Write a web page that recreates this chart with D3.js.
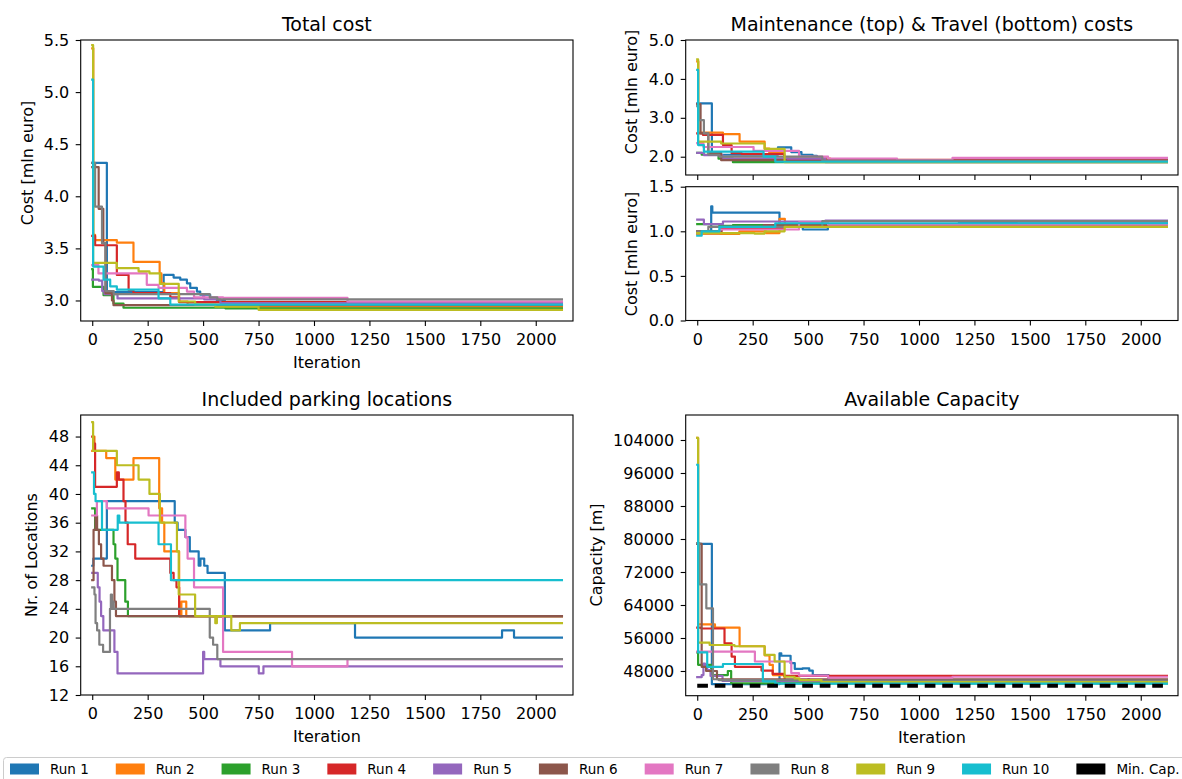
<!DOCTYPE html>
<html>
<head>
<meta charset="utf-8">
<script src="https://cdn.jsdelivr.net/npm/d3@7"></script>
<style>
  body { margin: 0; background: #fff; }
  svg { display: block; font-family: "DejaVu Sans", sans-serif; }
</style>
</head>
<body>
<svg id="fig" width="1182" height="779"></svg>
<script>
// ---- data: each run is a list of [iteration, value] steps (value holds until the next step)
const runNames = ["Run 1", "Run 2", "Run 3", "Run 4", "Run 5", "Run 6", "Run 7", "Run 8", "Run 9", "Run 10"];
const runColors = ["#1f77b4", "#ff7f0e", "#2ca02c", "#d62728", "#9467bd", "#8c564b", "#e377c2", "#7f7f7f", "#bcbd22", "#17becf"];
const lastIteration = 2118;
const iterationTicks = [0, 250, 500, 750, 1000, 1250, 1500, 1750, 2000];

const totalCost = [
  [[0,4.32],[66,3.08],[322,3.245],[367,3.22],[397,3.2],[427,3.165],[442,3.12],[472,3.085],[487,3.055],[532,3.02],[562,3.0],[598,2.955]],
  [[0,5.42],[5,3.63],[13,3.58],[111,3.555],[186,3.37],[304,3.26],[312,3.165],[325,3.07],[392,2.99],[430,2.96],[600,2.94]],
  [[0,3.3],[3,3.13],[51,3.05],[96,2.97],[141,2.93],[600,2.925]],
  [[0,3.62],[13,3.53],[111,3.245],[164,3.1],[186,3.07],[352,3.03],[392,2.985]],
  [[0,3.2],[30,3.19],[45,3.09],[55,3.06],[114,3.02],[500,3.05],[505,3.01],[578,2.975]],
  [[0,4.28],[29,3.88],[50,3.55],[60,3.07],[89,3.0],[96,2.955]],
  [[0,3.34],[28,3.26],[246,3.15],[299,3.12],[427,3.085],[459,3.03],[590,3.025],[1151,2.99]],
  [[0,4.32],[13,3.9],[44,3.55],[60,3.09],[97,3.06],[530,3.03],[564,3.01]],
  [[0,5.45],[4,3.36],[111,3.31],[209,3.28],[258,3.26],[305,3.16],[390,2.99],[464,2.96],[555,2.94],[750,2.91]],
  [[0,5.12],[4,3.325],[51,3.2],[81,3.135],[111,3.105],[299,3.02],[352,2.96]]
];

const maintenanceCost = [
  [[0,3.37],[66,2.05],[364,2.24],[424,2.12],[470,2.05],[520,2.02],[540,1.96],[590,1.87]],
  [[0,4.45],[5,2.62],[116,2.58],[191,2.39],[304,2.21],[325,2.1],[392,1.95],[600,1.88]],
  [[0,2.1],[20,2.05],[96,1.95],[161,1.86]],
  [[0,2.6],[26,2.56],[116,2.3],[155,2.09],[200,2.07],[392,1.92]],
  [[0,2.1],[30,2.04],[114,1.95],[578,1.86]],
  [[0,3.35],[15,2.6],[50,2.1],[108,1.91],[400,1.88]],
  [[0,2.35],[28,2.25],[254,2.15],[459,2.0],[590,1.95],[901,1.91],[1151,1.97]],
  [[0,3.3],[8,2.94],[30,2.6],[50,2.05],[100,2.0],[564,1.9]],
  [[0,4.5],[4,2.39],[108,2.34],[304,2.2],[394,1.86]],
  [[0,4.23],[4,2.3],[30,2.13],[299,2.0],[352,1.87]]
];

const travelCost = [
  [[0,0.97],[63,1.28],[68,1.21],[371,1.08],[400,1.06],[476,1.02],[589,1.07],[640,1.08],[1180,1.1],[1440,1.09]],
  [[0,0.97],[190,1.0],[310,0.98],[371,1.14],[395,1.08],[430,1.06]],
  [[0,1.08],[100,1.06],[161,1.07]],
  [[0,1.0],[110,1.03],[392,1.07]],
  [[0,1.13],[30,1.08],[116,1.11],[578,1.12]],
  [[0,1.0],[108,1.05],[300,1.07],[400,1.08]],
  [[0,0.98],[100,1.02],[459,1.1],[590,1.075]],
  [[0,1.0],[50,1.05],[564,1.115]],
  [[0,0.98],[258,0.975],[304,1.0],[394,1.05]],
  [[0,0.95],[20,1.0],[100,1.05],[352,1.09]]
];

const locations = [
  [[0,30],[5,31],[66,39],[372,36],[385,35],[420,34],[440,32],[480,30],[488,31],[505,30],[520,29],[598,21],[802,22],[1185,20],[1848,21],[1902,20]],
  [[0,46],[4,48],[10,46],[63,45],[104,42],[186,45],[302,38],[315,36],[325,32],[392,23],[402,25],[424,23]],
  [[0,38],[13,35],[96,33],[104,31],[114,28],[149,25],[161,23]],
  [[0,48],[5,47],[13,41],[111,43],[120,42],[141,39],[150,36],[160,33],[194,31],[352,29],[367,28],[380,27],[392,23]],
  [[0,29],[25,27],[33,25],[40,23],[50,21],[100,18],[114,15],[500,18],[505,17],[578,16],[751,15],[772,16]],
  [[0,28],[6,35],[15,37],[22,35],[30,33],[40,31],[51,30],[89,28],[100,25],[107,23]],
  [[0,37],[21,39],[66,38],[254,37],[420,34],[430,31],[459,27],[590,18],[901,16],[1151,17]],
  [[0,27],[10,26],[15,22],[22,21],[32,19],[49,18],[80,24],[84,26],[89,24],[92,25],[97,24],[530,20],[545,19],[564,17]],
  [[0,50],[4,46],[111,44],[209,42],[258,40],[305,36],[382,32],[390,26],[464,23],[555,22],[562,23],[627,21],[666,22]],
  [[0,43],[8,40],[15,39],[44,35],[115,37],[122,36],[299,33],[355,28]]
];

const capacity = [
  [[0,78800],[66,44800],[371,52300],[379,51700],[421,49900],[440,48500],[475,48650],[505,48100],[521,47000],[592,45300]],
  [[0,104500],[4,59300],[80,58500],[191,54000],[304,51800],[326,49500],[341,47000],[394,45400]],
  [[0,52500],[4,49500],[63,47000],[138,48000],[153,45000]],
  [[0,58500],[18,58300],[123,54700],[155,51500],[170,49000],[290,48100],[340,47300],[392,46800]],
  [[0,46500],[20,47000],[28,49800],[35,49000],[45,48200],[60,46800],[114,45600],[500,46000],[505,45600]],
  [[0,78800],[20,49000],[40,48000],[89,46000]],
  [[0,52700],[260,50300],[424,47500],[459,46900],[590,46400],[1151,46600]],
  [[0,79000],[10,69000],[41,63200],[71,46000],[97,45800],[564,45700]],
  [[0,104500],[4,54900],[56,54300],[168,54000],[304,51900],[349,50300],[394,46600],[439,46200],[461,45800],[560,45300]],
  [[0,98000],[4,52500],[45,49000],[116,49700],[296,45500],[352,44950]]
];
const minCapacity = 44450;

const totalTicks = [3.0, 3.5, 4.0, 4.5, 5.0, 5.5];
const maintenanceTicks = [2.0, 3.0, 4.0, 5.0];
const travelTicks = [0.0, 0.5, 1.0, 1.5];
const locationTicks = [12, 16, 20, 24, 28, 32, 36, 40, 44, 48];
const capacityTicks = [48000, 56000, 64000, 72000, 80000, 88000, 96000, 104000];

// ---- drawing
const svg = d3.select("#fig");
svg.append("rect").attr("width", 1182).attr("height", 779).attr("fill", "#fff");

const iterDomain = [-52, 2168];
const TICK = 5, FONT = 16, LINE_W = 2.2;
let clipCount = 0;

function drawPanel(o) {
  const x = d3.scaleLinear().domain(iterDomain).range([o.left, o.right]);
  const y = d3.scaleLinear().domain(o.yDomain).range([o.bottom, o.top]);
  const g = svg.append("g");
  const id = "clip" + (clipCount++);
  g.append("clipPath").attr("id", id).append("rect")
    .attr("x", o.left).attr("y", o.top).attr("width", o.right - o.left).attr("height", o.bottom - o.top);
  const plot = g.append("g").attr("clip-path", `url(#${id})`);
  const line = d3.line().x(d => x(d[0])).y(d => y(d[1])).curve(d3.curveStepAfter);
  o.series.forEach((s, i) => {
    const pts = s.concat([[lastIteration, s[s.length - 1][1]]]);
    plot.append("path").attr("d", line(pts)).attr("fill", "none")
      .attr("stroke", runColors[i]).attr("stroke-width", LINE_W)
      .attr("stroke-linejoin", "round").attr("stroke-linecap", "square");
  });
  if (o.extra) o.extra(plot, x, y);

  // axes
  const xa = d3.axisBottom(x).tickValues(iterationTicks).tickSize(TICK).tickPadding(8)
    .tickFormat(o.xLabels ? d3.format("d") : "");
  const gx = g.append("g").attr("transform", `translate(0,${o.bottom})`).call(xa);
  const ya = d3.axisLeft(y).tickValues(o.yTicks).tickSize(TICK).tickPadding(6.5).tickFormat(o.yFormat);
  const gy = g.append("g").attr("transform", `translate(${o.left},0)`).call(ya);
  [gx, gy].forEach(a => {
    a.attr("font-size", null).attr("font-family", null);
    a.select(".domain").remove();
    a.selectAll(".tick line").attr("stroke", "#000").attr("stroke-width", 1.1);
    a.selectAll(".tick text").attr("fill", "#000").style("font-size", FONT + "px");
  });
  g.append("rect").attr("x", o.left).attr("y", o.top)
    .attr("width", o.right - o.left).attr("height", o.bottom - o.top)
    .attr("fill", "none").attr("stroke", "#000").attr("stroke-width", 1.1);

  if (o.title) {
    g.append("text").attr("x", (o.left + o.right) / 2).attr("y", o.top - 9.5)
      .attr("text-anchor", "middle").style("font-size", "19px").attr("fill", "#000").text(o.title);
  }
  if (o.xLabel) {
    g.append("text").attr("x", (o.left + o.right) / 2).attr("y", o.bottom + 47)
      .attr("text-anchor", "middle").style("font-size", FONT + "px").attr("fill", "#000").text(o.xLabel);
  }
  if (o.yLabel) {
    g.append("text").attr("transform", `translate(${o.yLabelX},${o.yLabelY}) rotate(-90)`)
      .attr("text-anchor", "middle").attr("dy", "0.35em")
      .style("font-size", FONT + "px").attr("fill", "#000").text(o.yLabel);
  }
}

const L = { left: 80.7, right: 573 };
const R = { left: 685.7, right: 1178 };

drawPanel({ ...L, top: 40, bottom: 321, yDomain: [2.803, 5.5], yTicks: totalTicks, yFormat: d3.format(".1f"),
  series: totalCost, xLabels: true, title: "Total cost", xLabel: "Iteration",
  yLabel: "Cost [mln euro]", yLabelX: 27, yLabelY: 163 });

drawPanel({ ...R, top: 40, bottom: 175, yDomain: [1.53, 5.0], yTicks: maintenanceTicks, yFormat: d3.format(".1f"),
  series: maintenanceCost, xLabels: false, title: "Maintenance (top) & Travel (bottom) costs",
  yLabel: "Cost [mln euro]", yLabelX: 631, yLabelY: 92 });

drawPanel({ ...R, top: 186.7, bottom: 320.5, yDomain: [0, 1.5], yTicks: travelTicks, yFormat: d3.format(".1f"),
  series: travelCost, xLabels: true,
  yLabel: "Cost [mln euro]", yLabelX: 631, yLabelY: 254 });

drawPanel({ ...L, top: 415, bottom: 695, yDomain: [12, 51], yTicks: locationTicks, yFormat: d3.format("d"),
  series: locations, xLabels: true, title: "Included parking locations", xLabel: "Iteration",
  yLabel: "Nr. of Locations", yLabelX: 31, yLabelY: 555 });

drawPanel({ ...R, top: 415, bottom: 695.7, yDomain: [42010, 110060], yTicks: capacityTicks, yFormat: d3.format("d"),
  series: capacity, xLabels: true, title: "Available Capacity", xLabel: "Iteration",
  yLabel: "Capacity [m]", yLabelX: 596, yLabelY: 555,
  extra: (plot, x, y) => {
    plot.append("line").attr("x1", x(0)).attr("x2", x(lastIteration))
      .attr("y1", y(minCapacity)).attr("y2", y(minCapacity))
      .attr("stroke", "#000").attr("stroke-width", 4).attr("stroke-dasharray", "10.7,6.8");
  } });

// ---- legend
const legendItems = runNames.map((n, i) => ({ name: n, color: runColors[i] }))
  .concat([{ name: "Min. Cap.", color: "#000" }]);
const lg = svg.append("g");
lg.append("rect").attr("x", 3.5).attr("y", 757.5).attr("width", 1200).attr("height", 30).attr("rx", 3)
  .attr("fill", "#fff").attr("stroke", "#cccccc").attr("stroke-width", 1);
let lx = 10;
legendItems.forEach(it => {
  lg.append("rect").attr("x", lx).attr("y", 763.5).attr("width", 29).attr("height", 11).attr("fill", it.color);
  const t = lg.append("text").attr("x", lx + 40).attr("y", 769.5).attr("dy", "0.35em")
    .style("font-size", "13.5px").attr("fill", "#000").text(it.name);
  lx += 40 + t.node().getComputedTextLength() + 27;
});
</script>
</body>
</html>
